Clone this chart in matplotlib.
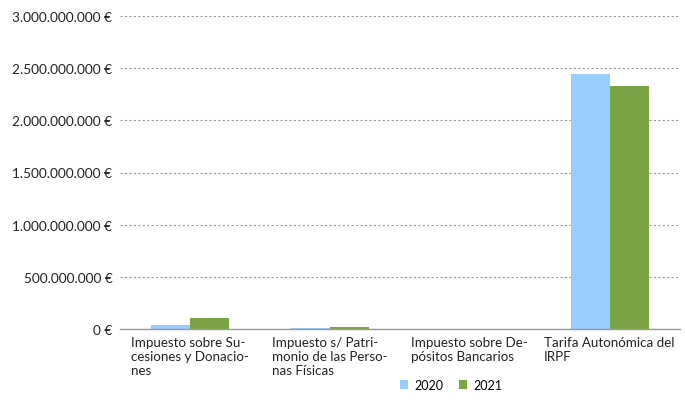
import matplotlib
matplotlib.use("Agg")
import matplotlib.pyplot as plt
from matplotlib.ticker import FuncFormatter
import numpy as np

categories = ["Impuesto sobre Su-\ncesiones y Donacio-\nnes",
              "Impuesto s/ Patri-\nmonio de las Perso-\nnas Físicas",
              "Impuesto sobre De-\npósitos Bancarios",
              "Tarifa Autonómica del\nIRPF"]
series_names = ["2020", "2021"]
values_2020 = [42_000_000, 6_000_000, 1_000_000, 2_445_000_000]
values_2021 = [108_000_000, 18_000_000, 1_000_000, 2_330_000_000]
colors = ["#99CCFF", "#7BA544"]

plt.rcParams['font.family'] = ['Lato', 'DejaVu Sans']

fig = plt.figure(figsize=(6.85, 4.06), dpi=100)
ax = fig.add_axes([120/685, 1 - 330/406, 560/685, 313/406])

x = np.arange(len(categories))
w = 0.28
ax.bar(x - w/2, values_2020, w, color=colors[0], label=series_names[0])
ax.bar(x + w/2, values_2021, w, color=colors[1], label=series_names[1])

ax.set_xlim(-0.5, len(categories) - 0.5)
ax.set_ylim(0, 3_000_000_000)
ax.set_yticks(np.arange(0, 3_000_000_001, 500_000_000))

def fmt(v, pos):
    s = f"{int(v):,}".replace(",", ".")
    return f"{s} €"
ax.yaxis.set_major_formatter(FuncFormatter(fmt))
ax.tick_params(axis='y', length=0, labelsize=9.8, colors='#222222', pad=5.5)
ax.tick_params(axis='x', length=0, labelbottom=False)
ax.yaxis.grid(True, linestyle=(0, (2, 2)), color='#999999', linewidth=0.8)
ax.set_axisbelow(True)
for s in ['top', 'right', 'left']:
    ax.spines[s].set_visible(False)
ax.spines['bottom'].set_color('#999999')
ax.spines['bottom'].set_linewidth(1.0)

for i, c in enumerate(categories):
    ax.text(i - 0.004, -0.022, c, transform=ax.get_xaxis_transform(),
            ha='center', va='top', multialignment='left',
            fontsize=9.6, color='#222222', linespacing=1.2)

leg = ax.legend(loc='center', bbox_to_anchor=(451/685, 1 - 386/406),
                bbox_transform=fig.transFigure, ncol=2, frameon=False,
                fontsize=9, handlelength=0.7, handleheight=0.7,
                handletextpad=0.5, columnspacing=1.2)

fig.savefig("out.png", dpi=100)
